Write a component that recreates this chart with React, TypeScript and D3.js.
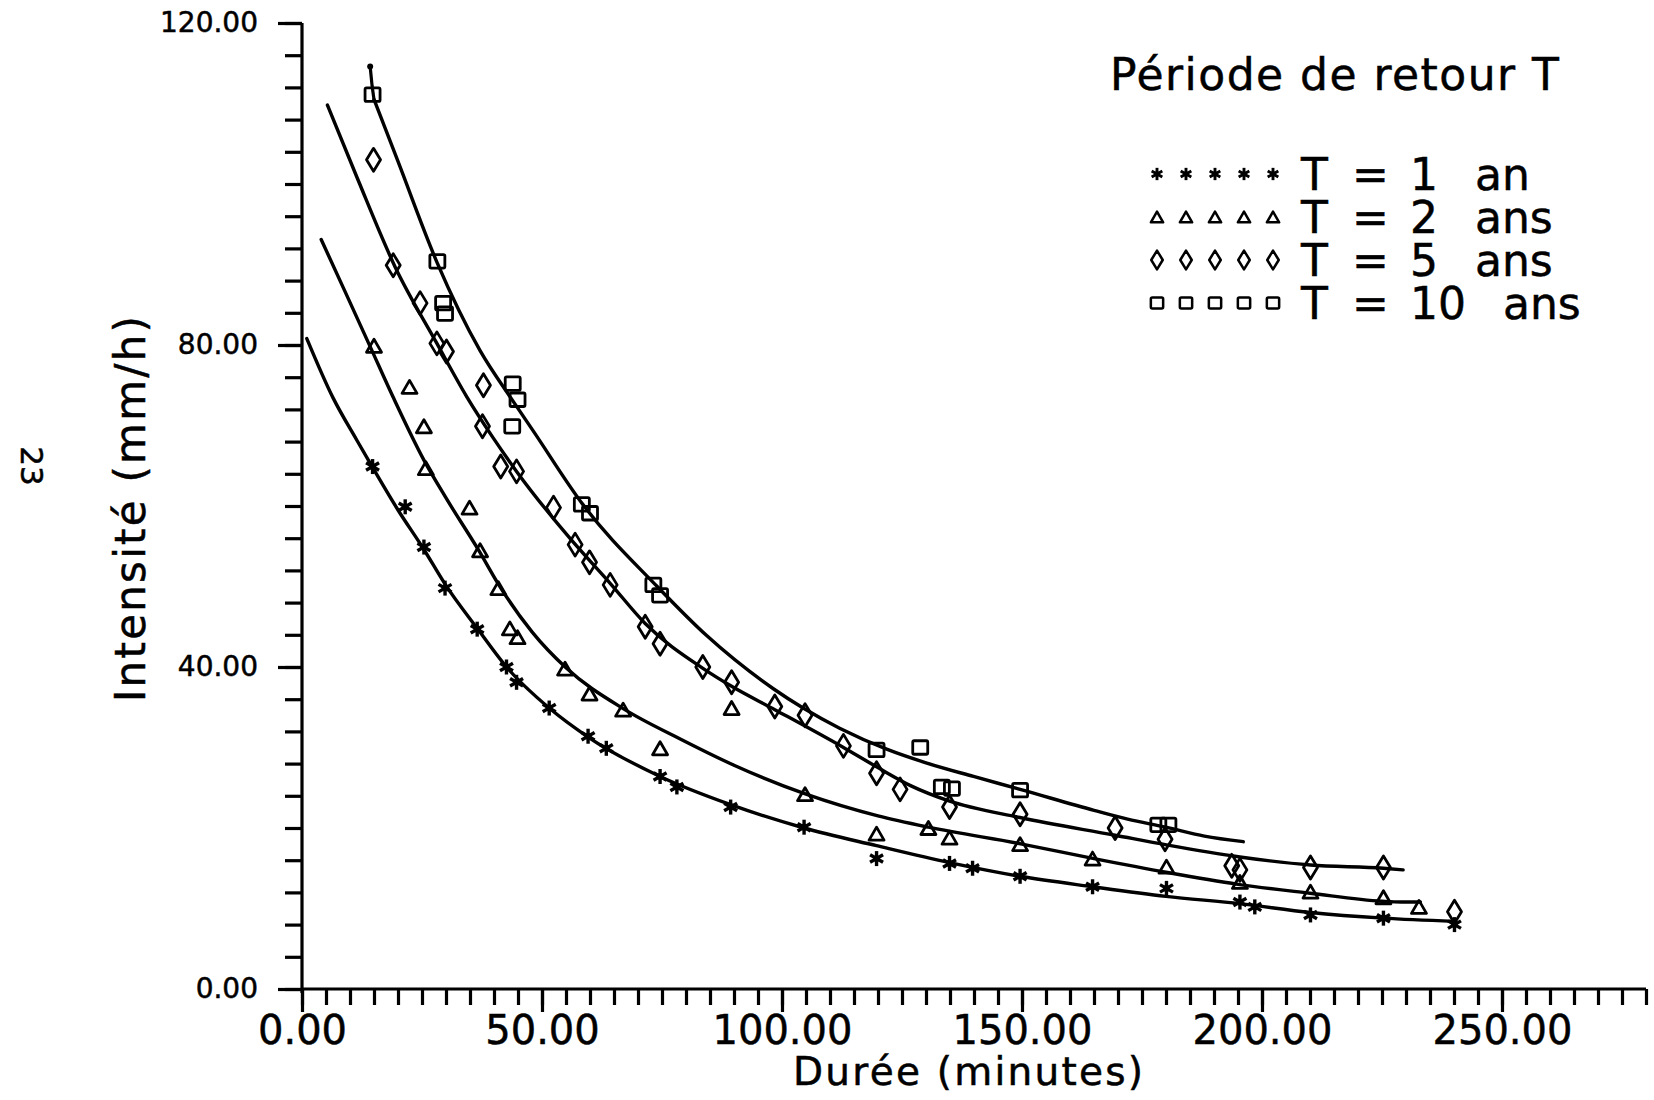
import * as d3 from "d3";
import React, { useEffect, useRef } from "react";

type Pt = [number, number];

// axis ticks
const xMajorTicks = [0, 50, 100, 150, 200, 250];
const yMajorTicks = [0, 40, 80, 120];

// fitted curves (duration in min, intensity in mm/h)
const curveT1: Pt[] = [
  [1, 80.8], [6.5, 73.4], [11.4, 68.2], [14.7, 64.8], [20, 59.5], [25.4, 54.6],
  [29.8, 50.3], [36.5, 44.8], [42.6, 40.0], [51.5, 34.9], [59.6, 31.3], [74.6, 26.4],
  [89.3, 22.9], [104.6, 20.0], [119.7, 17.8], [134.9, 15.7], [149.6, 14.0],
  [164.7, 12.7], [180, 11.5], [195.4, 10.6], [210.1, 9.5], [225.3, 8.8], [240.1, 8.4],
];
const curveT2: Pt[] = [
  [4, 93.1], [9, 86.6], [14.2, 79.8], [19, 73.5], [25.4, 65.7], [30, 61.0],
  [36.7, 54.6], [41, 50.2], [48, 44.3], [55, 39.9], [67, 34.8], [79, 31.0],
  [90, 27.8], [105, 24.2], [120, 21.5], [130.5, 20.1], [150, 18.0], [165, 16.2],
  [180, 14.5], [195, 13.0], [210, 11.9], [225, 10.9], [229, 10.8], [233, 10.8],
];
const curveT5: Pt[] = [
  [5.3, 109.8], [11.4, 100.9], [19.4, 89.7], [28.1, 80.2], [34.3, 73.6], [39.9, 68.4],
  [44.7, 64.3], [55.8, 56.0], [64.2, 50.4], [71.5, 45.4], [83.6, 39.8], [89.5, 37.6],
  [98.5, 34.7], [112.8, 30.0], [119.7, 27.6], [127, 25.2], [134.6, 23.4], [149.6, 21.3],
  [169.4, 19.1], [180.1, 17.9], [195.4, 16.4], [210.1, 15.4], [225.3, 15.0], [229.4, 14.8],
];
// small pen hook at the start of the T = 10 curve
const hookT10: Pt[] = [[14.2, 114.6], [14.6, 112.2], [15, 110.5]];
const curveT10: Pt[] = [
  [15, 110.5], [20, 102.8], [28.1, 90.3], [37.1, 79.3], [44, 73.0],
  [48.2, 69.3], [58.5, 60.2], [74, 50.0], [84.3, 43.9], [98.2, 37.3], [104.4, 34.9],
  [112, 32.4], [121.8, 29.8], [130, 28.1], [139.9, 26.4], [149.6, 24.8], [165, 22.2],
  [172, 21.1], [180, 20.1], [188, 19.0], [196.1, 18.3],
];

// observed points
const pointsT1: Pt[] = [
  [14.7, 64.9], [21.5, 59.9], [25.4, 54.9], [29.8, 49.8], [36.5, 44.7], [42.6, 40.0],
  [44.7, 38.1], [51.5, 34.9], [59.6, 31.4], [63.4, 29.9], [74.6, 26.4], [78.1, 25.1],
  [89.3, 22.6], [104.6, 20.1], [119.7, 16.2], [134.9, 15.6], [139.7, 15.0], [149.6, 14.0],
  [164.7, 12.7], [180.1, 12.5], [195.4, 10.8], [198.5, 10.2], [210.1, 9.2], [225.3, 8.8],
  [240.1, 8.0],
];
const pointsT2: Pt[] = [
  [15, 79.9], [22.4, 74.8], [25.4, 69.9], [25.8, 64.7], [34.9, 59.8], [37.1, 54.5],
  [40.9, 49.8], [43.3, 44.8], [44.9, 43.7], [54.8, 39.8], [59.9, 36.7], [66.9, 34.7],
  [74.6, 29.9], [89.5, 34.9], [104.8, 24.2], [119.7, 19.3], [130.5, 20.0], [134.9, 18.8],
  [149.6, 18.0], [164.7, 16.2], [180.1, 15.2], [195.4, 13.3], [210.1, 12.1], [225.3, 11.4],
  [232.7, 10.2],
];
const pointsT5: Pt[] = [
  [14.9, 103.0], [19.0, 89.9], [24.6, 85.2], [28.1, 80.2], [30.1, 79.2], [37.8, 75.0],
  [37.6, 69.9], [41.4, 64.9], [44.7, 64.3], [52.4, 59.8], [56.9, 55.2], [59.9, 53.0],
  [64.2, 50.2], [71.5, 45.0], [74.6, 42.9], [83.5, 40.0], [89.5, 38.1], [98.5, 35.1],
  [104.8, 34.0], [112.8, 30.2], [119.7, 26.8], [124.6, 24.8], [134.9, 22.6], [149.6, 21.7],
  [169.4, 20.0], [179.8, 18.6], [193.7, 15.3], [195.4, 14.8], [210.1, 15.1], [225.3, 15.1],
  [240.1, 9.6],
];
const pointsT10: Pt[] = [
  [14.7, 111.1], [28.2, 90.4], [29.4, 85.2], [29.8, 83.9], [43.9, 75.2], [44.9, 73.2],
  [43.8, 69.9], [58.3, 60.2], [60, 59.1], [73.2, 50.2], [74.6, 48.9], [119.7, 29.7],
  [128.8, 30.0], [133.3, 25.1], [135.4, 24.9], [149.6, 24.7], [178.4, 20.4], [180.5, 20.4],
];

const legendTitle = "Période de retour T";
const legendNumbers = ["1", "2", "5", "10"];
const legendUnits = ["an", "ans", "ans", "ans"];
const markerTypes = ["star", "triangle", "diamond", "square"];

const xTitle = "Durée (minutes)";
const yTitle = "Intensité (mm/h)";

const FONT = "'DejaVu Sans', 'Liberation Sans', sans-serif";

function drawMarker(
  g: d3.Selection<SVGGElement, unknown, null, undefined>,
  type: string,
  cx: number,
  cy: number,
  k: number
) {
  const sw = 2.8 * Math.max(k, 0.9);
  if (type === "star") {
    const r = 7.5 * k;
    for (let a = 0; a < 180; a += 60) {
      const t = (a * Math.PI) / 180;
      g.append("line")
        .attr("x1", cx - r * Math.sin(t)).attr("y1", cy - r * Math.cos(t))
        .attr("x2", cx + r * Math.sin(t)).attr("y2", cy + r * Math.cos(t))
        .attr("stroke", "#000").attr("stroke-width", 3.4 * Math.max(k, 0.85));
    }
    g.append("circle").attr("cx", cx).attr("cy", cy).attr("r", 3.4 * k).attr("fill", "#000");
  } else if (type === "triangle") {
    const w = 7.5 * k, h = 13 * k;
    g.append("path")
      .attr("d", `M${cx},${cy - h / 2}L${cx + w},${cy + h / 2}L${cx - w},${cy + h / 2}Z`)
      .attr("fill", "none").attr("stroke", "#000").attr("stroke-width", sw)
      .attr("stroke-linejoin", "round");
  } else if (type === "diamond") {
    const w = 7 * k, h = 11.5 * k;
    g.append("path")
      .attr("d", `M${cx},${cy - h}L${cx + w},${cy}L${cx},${cy + h}L${cx - w},${cy}Z`)
      .attr("fill", "none").attr("stroke", "#000").attr("stroke-width", sw)
      .attr("stroke-linejoin", "round");
  } else {
    const s = 7.5 * k;
    g.append("rect")
      .attr("x", cx - s).attr("y", cy - s * 0.9).attr("width", 2 * s).attr("height", 1.8 * s)
      .attr("rx", 1.5)
      .attr("fill", "none").attr("stroke", "#000").attr("stroke-width", sw);
  }
}

const Chart: React.FC = () => {
  const ref = useRef<SVGSVGElement | null>(null);

  useEffect(() => {
    if (!ref.current) return;
    document.body.style.margin = "0";
    const svg = d3.select(ref.current);
    svg.selectAll("*").remove();

    const x = d3.scaleLinear().domain([0, 280]).range([302, 1646]);
    const y = d3.scaleLinear().domain([0, 120]).range([989, 23]);

    svg.append("rect").attr("width", 1654).attr("height", 1100).attr("fill", "#fff");

    // X axis: minor ticks every 5, major every 50
    const gx = svg.append("g").attr("transform", `translate(0,${y(0)})`);
    gx.append("g")
      .call(d3.axisBottom(x).tickValues(d3.range(0, 281, 5)).tickSize(16).tickSizeOuter(0).tickFormat(() => ""))
      .call((g) => g.select(".domain").remove());
    gx.append("g")
      .call(d3.axisBottom(x).tickValues(xMajorTicks).tickSize(23).tickPadding(4).tickFormat(d3.format(".2f")))
      .call((g) => g.select(".domain").remove())
      .call((g) =>
        g.selectAll("text").attr("font-size", 40).attr("font-family", FONT)
          .attr("fill", "#000").attr("stroke", "#000").attr("stroke-width", 0.5)
      );
    gx.append("line").attr("x1", x(0)).attr("x2", x(280)).attr("stroke", "#000");
    gx.selectAll("line").attr("stroke-width", 3.2);

    // Y axis: minor ticks every 4, major every 40
    const gy = svg.append("g").attr("transform", `translate(${x(0)},0)`);
    gy.append("g")
      .call(d3.axisLeft(y).tickValues(d3.range(0, 121, 4)).tickSize(17).tickSizeOuter(0).tickFormat(() => ""))
      .call((g) => g.select(".domain").remove());
    gy.append("g")
      .call(d3.axisLeft(y).tickValues(yMajorTicks).tickSize(24).tickPadding(20).tickFormat(d3.format(".2f")))
      .call((g) => g.select(".domain").remove())
      .call((g) =>
        g.selectAll("text").attr("font-size", 28).attr("font-family", FONT)
          .attr("fill", "#000").attr("stroke", "#000").attr("stroke-width", 0.5)
      );
    gy.append("line").attr("y1", y(120)).attr("y2", y(0) + 4).attr("stroke", "#000");
    gy.selectAll("line").attr("stroke-width", 3.2);

    const texts = svg.append("g").attr("stroke", "#000").attr("stroke-width", 0.5);

    // axis titles
    texts.append("text")
      .attr("x", 793).attr("y", 1085)
      .attr("textLength", 350).attr("lengthAdjust", "spacing")
      .attr("font-size", 39).attr("font-family", FONT)
      .text(xTitle);
    texts.append("text")
      .attr("transform", "translate(145,702) rotate(-90)")
      .attr("textLength", 386).attr("lengthAdjust", "spacing")
      .attr("font-size", 42).attr("font-family", FONT)
      .text(yTitle);

    // page number in the margin
    texts.append("text")
      .attr("transform", "translate(21,466) rotate(90)")
      .attr("text-anchor", "middle")
      .attr("font-size", 31).attr("font-family", FONT)
      .text("23");

    // curves + points
    const series = [
      { curve: curveT1, points: pointsT1, marker: markerTypes[0] },
      { curve: curveT2, points: pointsT2, marker: markerTypes[1] },
      { curve: curveT5, points: pointsT5, marker: markerTypes[2] },
      { curve: curveT10, points: pointsT10, marker: markerTypes[3] },
    ];
    const line = d3.line<Pt>().x((d) => x(d[0])).y((d) => y(d[1])).curve(d3.curveMonotoneX);
    const straight = d3.line<Pt>().x((d) => x(d[0])).y((d) => y(d[1]));

    svg.append("path")
      .datum(hookT10)
      .attr("fill", "none").attr("stroke", "#000").attr("stroke-width", 3.2)
      .attr("stroke-linecap", "round")
      .attr("d", straight);
    svg.append("circle").attr("cx", x(hookT10[0][0])).attr("cy", y(hookT10[0][1]))
      .attr("r", 3).attr("fill", "#000");

    series.forEach((s) => {
      svg.append("path")
        .datum(s.curve)
        .attr("fill", "none").attr("stroke", "#000").attr("stroke-width", 3.4)
        .attr("stroke-linecap", "round")
        .attr("d", line);
      const gm = svg.append("g");
      s.points.forEach((p) => drawMarker(gm, s.marker, x(p[0]), y(p[1]), 1));
    });

    // legend
    const lg = svg.append("g");
    texts.append("text")
      .attr("x", 1110).attr("y", 90)
      .attr("textLength", 449).attr("lengthAdjust", "spacing")
      .attr("font-size", 44).attr("font-family", FONT)
      .text(legendTitle);

    legendNumbers.forEach((num, i) => {
      const by = 190 + i * 43;
      for (let j = 0; j < 5; j++) {
        drawMarker(lg, markerTypes[i], 1157 + j * 29, by - 16, 0.82);
      }
      const t = texts.append("text").attr("y", by)
        .attr("font-size", 44).attr("font-family", FONT);
      t.append("tspan").attr("x", 1301).text("T");
      t.append("tspan").attr("x", 1352).text("=");
      t.append("tspan").attr("x", 1410).text(num);
      t.append("tspan").attr("x", 1410 + num.length * 28 + 37).text(legendUnits[i]);
    });
  }, []);

  return <svg ref={ref} width={1654} height={1100} style={{ display: "block" }} />;
};

export default function App() {
  return <Chart />;
}
